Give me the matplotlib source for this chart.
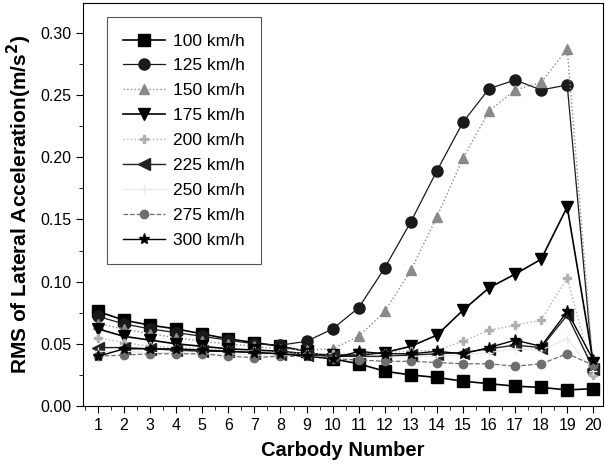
import matplotlib
matplotlib.use("Agg")
import matplotlib.pyplot as plt
from matplotlib.ticker import MultipleLocator

plt.rcParams['font.family'] = ['Liberation Sans', 'DejaVu Sans']

carbody = list(range(1, 21))
speeds = ["100 km/h", "125 km/h", "150 km/h", "175 km/h", "200 km/h",
          "225 km/h", "250 km/h", "275 km/h", "300 km/h"]

v100 = [0.076, 0.069, 0.065, 0.062, 0.058, 0.054, 0.051, 0.048, 0.044, 0.038,
        0.034, 0.028, 0.025, 0.023, 0.020, 0.018, 0.016, 0.015, 0.013, 0.014]
v125 = [0.072, 0.066, 0.062, 0.059, 0.056, 0.053, 0.050, 0.049, 0.052, 0.062,
        0.079, 0.111, 0.148, 0.189, 0.228, 0.255, 0.262, 0.254, 0.258, 0.028]
v150 = [0.066, 0.062, 0.058, 0.055, 0.052, 0.050, 0.048, 0.046, 0.045, 0.046,
        0.056, 0.076, 0.109, 0.152, 0.199, 0.237, 0.254, 0.260, 0.287, 0.030]
v175 = [0.062, 0.056, 0.053, 0.050, 0.048, 0.046, 0.045, 0.044, 0.042, 0.041,
        0.041, 0.043, 0.048, 0.057, 0.077, 0.095, 0.106, 0.118, 0.160, 0.035]
v200 = [0.055, 0.051, 0.048, 0.047, 0.046, 0.045, 0.044, 0.043, 0.042, 0.042,
        0.042, 0.043, 0.044, 0.045, 0.052, 0.061, 0.065, 0.069, 0.103, 0.025]
v225 = [0.047, 0.047, 0.046, 0.045, 0.044, 0.044, 0.043, 0.042, 0.041, 0.040,
        0.040, 0.040, 0.041, 0.042, 0.043, 0.046, 0.049, 0.047, 0.073, 0.030]
v250 = [0.044, 0.044, 0.043, 0.043, 0.042, 0.042, 0.041, 0.041, 0.040, 0.039,
        0.039, 0.039, 0.040, 0.040, 0.041, 0.043, 0.046, 0.045, 0.054, 0.028]
v275 = [0.040, 0.041, 0.042, 0.042, 0.042, 0.040, 0.039, 0.040, 0.040, 0.038,
        0.037, 0.036, 0.036, 0.035, 0.034, 0.034, 0.032, 0.034, 0.042, 0.033]
v300 = [0.040, 0.046, 0.046, 0.046, 0.045, 0.044, 0.043, 0.042, 0.040, 0.038,
        0.044, 0.042, 0.042, 0.044, 0.042, 0.047, 0.053, 0.048, 0.076, 0.037]

series = [v100, v125, v150, v175, v200, v225, v250, v275, v300]
styles = [
    dict(color='#000000', marker='s', ms=8, ls='-', lw=1.2),
    dict(color='#1a1a1a', marker='o', ms=8, ls='-', lw=0.9),
    dict(color='#8a8a8a', marker='^', ms=7, ls=':', lw=1.0),
    dict(color='#000000', marker='v', ms=8, ls='-', lw=1.2),
    dict(color='#b0b0b0', marker='P', ms=6, ls=':', lw=1.0),
    dict(color='#222222', marker='<', ms=8, ls='-', lw=1.0),
    dict(color='#e8e8e8', marker='+', ms=6, ls='-', lw=0.8),
    dict(color='#6e6e6e', marker='o', ms=6, ls='--', lw=0.9),
    dict(color='#000000', marker='*', ms=8, ls='-', lw=1.0),
]

fig = plt.figure(figsize=(6.05, 4.70), dpi=100)
ax = fig.add_axes([0.137, 0.136, 0.860, 0.858])

for vals, lab, st in zip(series, speeds, styles):
    ax.plot(carbody, vals, label=lab, color=st['color'], marker=st['marker'],
            markersize=st['ms'], linestyle=st['ls'], linewidth=st['lw'])

ax.set_xlim(0.42, 20.38)
ax.set_ylim(0.0, 0.324)
ax.set_xticks(carbody)
ax.xaxis.set_minor_locator(MultipleLocator(0.5))
ax.yaxis.set_minor_locator(MultipleLocator(0.025))
ax.set_yticks([0.0, 0.05, 0.10, 0.15, 0.20, 0.25, 0.30])
ax.set_yticklabels(['0.00', '0.05', '0.10', '0.15', '0.20', '0.25', '0.30'])
ax.tick_params(axis='both', which='major', direction='out', length=5, labelsize=11.5)
ax.tick_params(axis='both', which='minor', direction='out', length=3)

ax.set_xlabel('Carbody Number', fontsize=14.5, fontweight='bold', labelpad=6)
ax.set_ylabel('RMS of Lateral Acceleration(m/s$^\\mathbf{2}$)', fontsize=15,
              fontweight='bold', labelpad=4)

leg = ax.legend(loc='upper left', bbox_to_anchor=(0.046, 0.965), borderaxespad=0,
                fontsize=12.5, labelspacing=0.56, handlelength=2.4,
                handletextpad=0.45, fancybox=False, framealpha=1,
                edgecolor='#555555', borderpad=0.95)
leg.get_frame().set_linewidth(0.8)

fig.savefig('out.png', dpi=100)
